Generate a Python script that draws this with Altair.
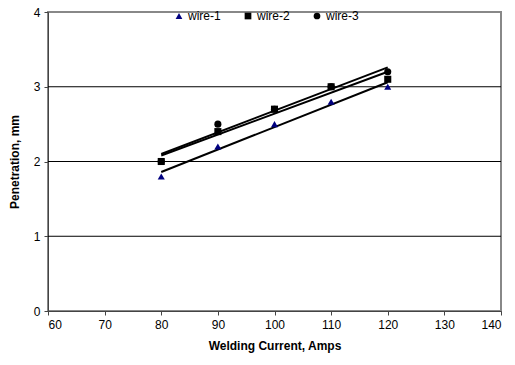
import altair as alt
import pandas as pd

current = [80, 90, 100, 110, 120]
wire1 = [1.8, 2.2, 2.5, 2.8, 3.0]
wire2 = [2.0, 2.4, 2.7, 3.0, 3.1]
wire3 = [2.0, 2.5, 2.7, 3.0, 3.2]
series_names = ["wire-1", "wire-2", "wire-3"]
grid_values = [1, 2, 3]

rows = []
for name, vals, order in zip(series_names, [wire1, wire2, wire3], [3, 2, 1]):
    for c, v in zip(current, vals):
        rows.append({"current": c, "pen": v, "series": name, "order": order})
df = pd.DataFrame(rows)
grid_df = pd.DataFrame({"g": grid_values})

FONT = "Liberation Sans"

xscale = alt.Scale(domain=[60, 140], nice=False)
yscale = alt.Scale(domain=[0, 4], nice=False)

xaxis = alt.Axis(title="Welding Current, Amps", values=list(range(60, 141, 10)),
                 grid=False, tickColor="#444", domainColor="#444", tickSize=4,
                 labelFontSize=12, titleFontSize=12, titleFontWeight="bold",
                 labelColor="#000", titleColor="#000", labelPadding=4, titlePadding=10,
                 labelFont=FONT, titleFont=FONT)
yaxis = alt.Axis(title="Penetration, mm", values=[0, 1, 2, 3, 4], grid=False,
                 tickColor="#444", domainColor="#444", tickSize=4, labelFontSize=12,
                 titleFontSize=12, titleFontWeight="bold", labelColor="#000",
                 titleColor="#000", labelPadding=4, titlePadding=12,
                 labelFont=FONT, titleFont=FONT)

legend = alt.Legend(title=None, orient="none", direction="horizontal",
                    legendX=125, legendY=-2, labelFontSize=12,
                    labelFont=FONT, symbolSize=45, columnPadding=21,
                    labelColor="#000", labelOpacity=1, symbolStrokeWidth=0,
                    labelOffset=3)

base = alt.Chart(df)

grid = alt.Chart(grid_df).mark_rule(color="#000", strokeWidth=1).encode(
    y=alt.Y("g:Q", scale=yscale, axis=yaxis)
)

lines = base.transform_regression(
    "current", "pen", groupby=["series"]
).mark_line(color="#000", strokeWidth=2).encode(
    x=alt.X("current:Q", scale=xscale, axis=xaxis),
    y=alt.Y("pen:Q", scale=yscale, axis=yaxis),
    detail="series:N",
)

points = base.mark_point(filled=True, opacity=1, size=50).encode(
    x=alt.X("current:Q", scale=xscale, axis=xaxis),
    y=alt.Y("pen:Q", scale=yscale, axis=yaxis),
    shape=alt.Shape("series:N", scale=alt.Scale(domain=series_names,
                    range=["triangle-up", "square", "circle"]), legend=legend),
    color=alt.Color("series:N", scale=alt.Scale(domain=series_names,
                    range=["#000080", "#000000", "#000000"]), legend=legend),
    order=alt.Order("order:Q"),
)

chart = alt.layer(grid, lines, points).properties(
    width=453, height=299,
    autosize=alt.AutoSizeParams(type="none"),
    padding={"left": 48, "top": 12, "right": 14, "bottom": 54},
    background="white",
).configure_view(stroke="#888", strokeWidth=2)

chart.save("out.html", embed_options={"renderer": "svg", "actions": False})
